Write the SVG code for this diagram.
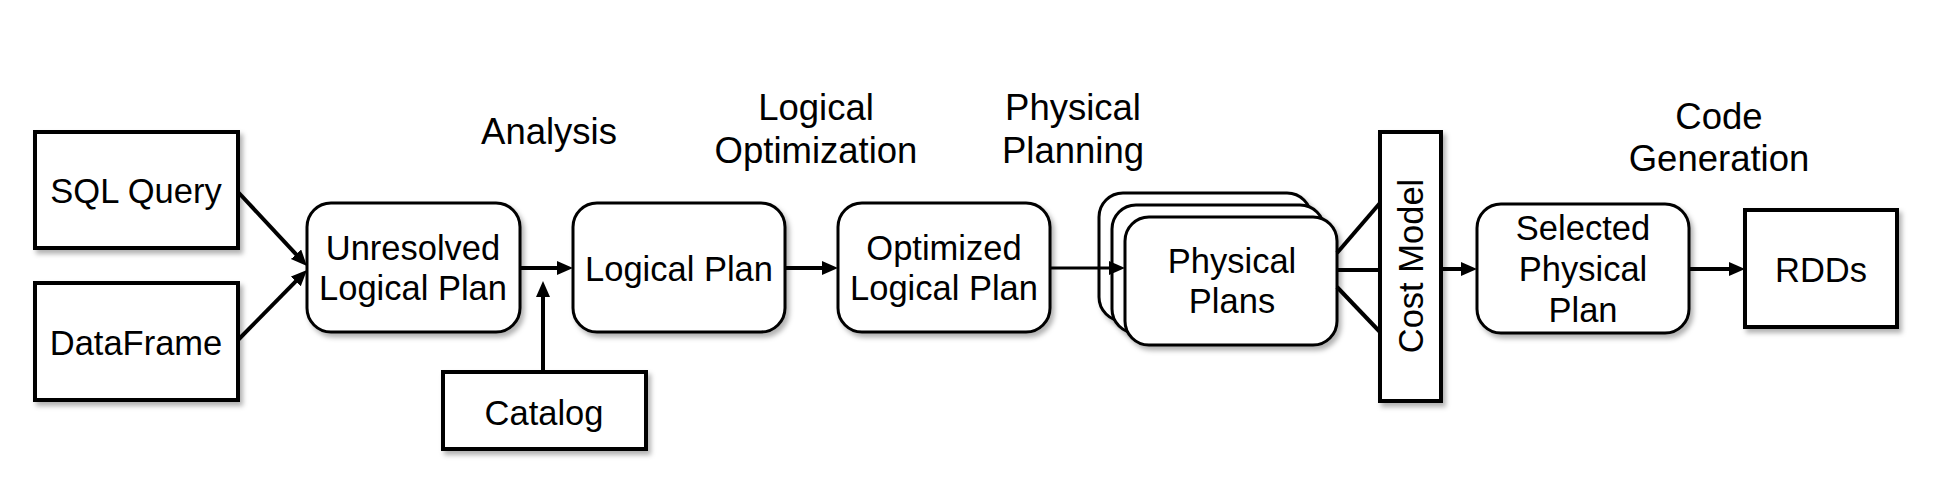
<svg xmlns="http://www.w3.org/2000/svg" width="1946" height="492" viewBox="0 0 1946 492">
<defs>
<filter id="sh" x="-10%" y="-10%" width="130%" height="130%">
<feDropShadow dx="3" dy="4" stdDeviation="2.5" flood-color="#000" flood-opacity="0.3"/>
</filter>
<marker id="ah" markerUnits="userSpaceOnUse" markerWidth="18" markerHeight="16" refX="8" refY="7" orient="auto">
<path d="M0,0 L16,7 L0,14 z" fill="#000"/>
</marker>
</defs>
<style>
.box{fill:#fff;stroke:#000;stroke-width:4;filter:url(#sh)}
.rbox{fill:#fff;stroke:#000;stroke-width:3;filter:url(#sh)}
.t{font-family:"Liberation Sans",Arial,sans-serif;font-size:34.5px;fill:#000;text-anchor:middle}
.l{font-size:36.5px}
.c{stroke:#000;stroke-width:4;fill:none}
.ca{stroke:#000;stroke-width:4;fill:none;marker-end:url(#ah)}
</style>
<rect width="1946" height="492" fill="#fff"/>
<g id="labels">
<text class="t l" x="549" y="144">Analysis</text>
<text class="t l" x="816" y="120">Logical</text>
<text class="t l" x="816" y="163">Optimization</text>
<text class="t l" x="1073" y="120">Physical</text>
<text class="t l" x="1073" y="163">Planning</text>
<text class="t l" x="1719" y="129">Code</text>
<text class="t l" x="1719" y="171">Generation</text>
</g>
<g id="sql">
<rect class="box" x="35" y="132" width="203" height="116"/>
<text class="t" x="136" y="203">SQL Query</text>
</g>
<g id="dataframe">
<rect class="box" x="35" y="283" width="203" height="117"/>
<text class="t" x="136" y="355">DataFrame</text>
</g>
<g id="unresolved">
<rect class="rbox" x="307" y="203" width="213" height="129" rx="24"/>
<text class="t" x="413" y="260">Unresolved</text>
<text class="t" x="413" y="300">Logical Plan</text>
</g>
<g id="catalog">
<rect class="box" x="443" y="372" width="203" height="77"/>
<text class="t" x="544" y="425">Catalog</text>
</g>
<g id="logical">
<rect class="rbox" x="573" y="203" width="212" height="129" rx="24"/>
<text class="t" x="679" y="281">Logical Plan</text>
</g>
<g id="optimized">
<rect class="rbox" x="838" y="203" width="212" height="129" rx="24"/>
<text class="t" x="944" y="260">Optimized</text>
<text class="t" x="944" y="300">Logical Plan</text>
</g>
<g id="physical">
<rect class="rbox" x="1099" y="193" width="212" height="128" rx="24"/>
<rect class="rbox" x="1112" y="205" width="212" height="128" rx="24"/>
<rect class="rbox" x="1125" y="217" width="212" height="128" rx="24"/>
<text class="t" x="1232" y="273">Physical</text>
<text class="t" x="1232" y="313">Plans</text>
</g>
<g id="costmodel">
<rect class="box" x="1380" y="132" width="61" height="269"/>
<text class="t" transform="translate(1423 266) rotate(-90)">Cost Model</text>
</g>
<g id="selected">
<rect class="rbox" x="1477" y="204" width="212" height="129" rx="24"/>
<text class="t" x="1583" y="240">Selected</text>
<text class="t" x="1583" y="281">Physical</text>
<text class="t" x="1583" y="322">Plan</text>
</g>
<g id="rdds">
<rect class="box" x="1745" y="210" width="152" height="117"/>
<text class="t" x="1821" y="282">RDDs</text>
</g>
<g id="connectors">
<line class="ca" x1="238" y1="192" x2="301.5" y2="260.1"/>
<line class="ca" x1="238" y1="340" x2="301.4" y2="275.7"/>
<line class="ca" x1="520" y1="268" x2="565" y2="268"/>
<line class="ca" x1="543" y1="372" x2="543" y2="289"/>
<line class="ca" x1="785" y1="268" x2="830" y2="268"/>
<line class="ca" x1="1050" y1="268" x2="1117" y2="268" style="stroke-width:3"/>
<line class="c" x1="1337" y1="253" x2="1380" y2="203"/>
<line class="c" x1="1337" y1="270" x2="1380" y2="270"/>
<line class="c" x1="1337" y1="287" x2="1380" y2="332"/>
<line class="ca" x1="1441" y1="269" x2="1469" y2="269"/>
<line class="ca" x1="1689" y1="269" x2="1737" y2="269"/>
</g>
</svg>
